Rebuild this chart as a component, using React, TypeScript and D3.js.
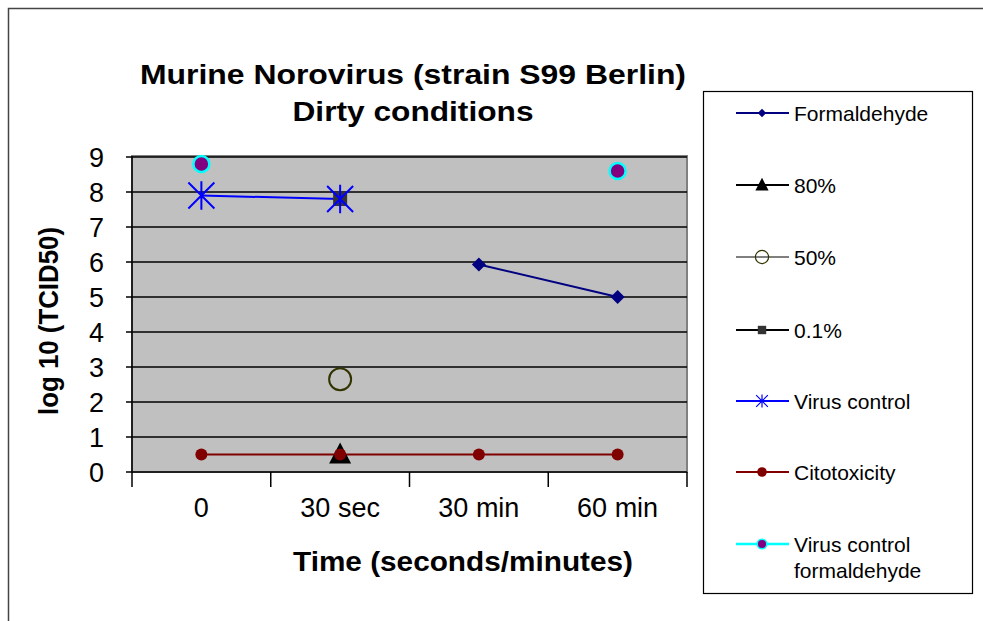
import React from 'react';
import * as d3 from 'd3';

// categories and series
const categories = ['0', '30 sec', '30 min', '60 min'];
const yTicks = [0, 1, 2, 3, 4, 5, 6, 7, 8, 9];

const formaldehyde = [null, null, 5.93, 5.0];
const pct80 = [null, 0.5, null, null];
const pct50 = [null, 2.65, null, null];
const pct01 = [null, 7.8, null, null];
const virusControl = [7.9, 7.8, null, null];
const citotoxicity = [0.5, 0.5, 0.5, 0.5];
const virusControlFormaldehyde = [8.8, null, null, 8.6];

const legendLabels = ['Formaldehyde', '80%', '50%', '0.1%', 'Virus control', 'Citotoxicity', 'Virus control|formaldehyde'];

const FONT = '"Liberation Sans", Arial, sans-serif';

type Kind = 'diamond' | 'triangle' | 'ocircle' | 'square' | 'asterisk' | 'dot' | 'vcf';

const Marker = ({ kind, x, y, s }: { kind: Kind; x: number; y: number; s: number }) => {
  // s = scale factor, 1 for plot, smaller for legend
  switch (kind) {
    case 'diamond': {
      const h = 7 * s;
      return <path d={`M${x},${y - h}L${x + h},${y}L${x},${y + h}L${x - h},${y}Z`} fill="#000080" />;
    }
    case 'triangle': {
      const w = 11 * s, h = 20 * s;
      return <path d={`M${x},${y - h * 0.6}L${x + w},${y + h * 0.45}L${x - w},${y + h * 0.45}Z`} fill="#000000" />;
    }
    case 'ocircle':
      return <circle cx={x} cy={y} r={11 * s} fill="none" stroke="#333300" strokeWidth={2 * Math.max(s, 0.6)} />;
    case 'square': {
      const h = 7 * s;
      return <rect x={x - h} y={y - h} width={2 * h} height={2 * h} fill="#333333" />;
    }
    case 'asterisk': {
      const a = 13 * s;
      return (
        <path
          d={`M${x - a},${y - a}L${x + a},${y + a}M${x - a},${y + a}L${x + a},${y - a}M${x},${y - a * 1.1}L${x},${y + a * 1.1}`}
          stroke="#0000ff"
          strokeWidth={2 * Math.max(s, 0.6)}
          fill="none"
        />
      );
    }
    case 'dot':
      return <circle cx={x} cy={y} r={6 * s} fill="#800000" />;
    case 'vcf':
      return <circle cx={x} cy={y} r={8 * s} fill="#800080" stroke="#00ffff" strokeWidth={2.5 * Math.max(s, 0.6)} />;
  }
  return null;
};

const series: { values: (number | null)[]; kind: Kind; color: string; lw: number; legendLw: number }[] = [
  { values: formaldehyde, kind: 'diamond', color: '#000080', lw: 2, legendLw: 2 },
  { values: pct80, kind: 'triangle', color: '#000000', lw: 2, legendLw: 2 },
  { values: pct50, kind: 'ocircle', color: '#000000', lw: 1, legendLw: 1 },
  { values: pct01, kind: 'square', color: '#000000', lw: 2, legendLw: 2 },
  { values: virusControl, kind: 'asterisk', color: '#0000ff', lw: 2, legendLw: 2 },
  { values: citotoxicity, kind: 'dot', color: '#800000', lw: 2, legendLw: 2 },
  { values: virusControlFormaldehyde, kind: 'vcf', color: '#00ffff', lw: 2.5, legendLw: 2.5 }
];

// lines only drawn where consecutive points exist (vcf has a gap)
const drawLine = [true, true, true, true, true, true, false];

export default function App(): JSX.Element {
  const width = 983;
  const height = 621;

  const plot = { l: 132, r: 687, t: 156, b: 472 };

  const x = d3.scaleBand<string>().domain(categories).range([plot.l, plot.r]);
  const y = d3.scaleLinear().domain([0, 9]).range([plot.b, plot.t + 1]);

  const line = d3
    .line<number | null>()
    .defined((d) => d !== null)
    .x((_, i) => (x(categories[i]) as number) + x.bandwidth() / 2)
    .y((d) => y(d as number));

  const boundaries = categories.map((c) => x(c) as number).concat([plot.r]);

  const legend = { x: 703, y: 91, w: 269, h: 502 };
  const legendRowY = [113, 185, 257, 330, 401, 472, 544];

  return (
    <svg width={width} height={height} style={{ position: 'absolute', left: 0, top: 0, background: '#fff' }}>
      {/* outer frame */}
      <rect x={8.5} y={8.5} width={1100} height={800} fill="none" stroke="#444" strokeWidth={1.5} />

      {/* title */}
      <g fontFamily={FONT} fontWeight="bold" fill="#000" textAnchor="middle">
        <text x={413} y={84} fontSize={28} textLength={546} lengthAdjust="spacingAndGlyphs">
          Murine Norovirus (strain S99 Berlin)
        </text>
        <text x={413} y={121} fontSize={28} textLength={241} lengthAdjust="spacingAndGlyphs">
          Dirty conditions
        </text>
      </g>

      {/* plot area */}
      <rect x={plot.l} y={plot.t} width={plot.r - plot.l} height={plot.b - plot.t} fill="#c0c0c0" stroke="#808080" strokeWidth={2} />
      {yTicks.slice(1).map((t) => (
        <line key={t} x1={plot.l} x2={plot.r} y1={y(t)} y2={y(t)} stroke="#000" strokeWidth={1.5} />
      ))}

      {/* axes */}
      <line x1={plot.l} x2={plot.l} y1={plot.t} y2={plot.b} stroke="#000" strokeWidth={1.5} />
      <line x1={plot.l} x2={plot.r} y1={plot.b} y2={plot.b} stroke="#000" strokeWidth={1.5} />
      {yTicks.map((t) => (
        <g key={t}>
          <line x1={plot.l - 6} x2={plot.l} y1={y(t)} y2={y(t)} stroke="#000" strokeWidth={1.5} />
          <text x={104} y={y(t) + 10} fontFamily={FONT} fontSize={27} textAnchor="end">
            {t}
          </text>
        </g>
      ))}
      {boundaries.map((b, i) => (
        <line key={i} x1={b} x2={b} y1={plot.b} y2={plot.b + 15} stroke="#000" strokeWidth={1.5} />
      ))}
      {categories.map((c) => (
        <text key={c} x={(x(c) as number) + x.bandwidth() / 2} y={517} fontFamily={FONT} fontSize={27} textAnchor="middle">
          {c}
        </text>
      ))}

      {/* axis titles */}
      <text x={463} y={571} fontFamily={FONT} fontWeight="bold" fontSize={28} textAnchor="middle" textLength={340} lengthAdjust="spacingAndGlyphs">
        Time (seconds/minutes)
      </text>
      <text
        transform="translate(58,321) rotate(-90)"
        fontFamily={FONT}
        fontWeight="bold"
        fontSize={27}
        textAnchor="middle"
        textLength={188}
        lengthAdjust="spacingAndGlyphs"
      >
        log 10 (TCID50)
      </text>

      {/* series lines */}
      {series.map((s, i) =>
        drawLine[i] ? (
          <path key={i} d={line(s.values) || ''} fill="none" stroke={s.color} strokeWidth={s.lw} />
        ) : null
      )}

      {/* markers */}
      {series.map((s, i) =>
        s.values.map((v, j) =>
          v === null ? null : (
            <Marker key={`${i}-${j}`} kind={s.kind} x={(x(categories[j]) as number) + x.bandwidth() / 2} y={y(v)} s={1} />
          )
        )
      )}

      {/* legend */}
      <rect x={legend.x + 0.5} y={legend.y + 0.5} width={legend.w} height={legend.h} fill="#fff" stroke="#000" strokeWidth={1.2} />
      {series.map((s, i) => {
        const ly = legendRowY[i];
        const lines = legendLabels[i].split('|');
        return (
          <g key={i}>
            <line x1={736} x2={789} y1={ly} y2={ly} stroke={s.color} strokeWidth={s.legendLw} />
            <Marker kind={s.kind} x={762} y={ly} s={i === 4 ? 0.45 : i === 5 ? 0.8 : 0.6} />
            {lines.map((t, k) => (
              <text key={k} x={794} y={ly + 8 + k * 26} fontFamily={FONT} fontSize={21} fill="#000">
                {t}
              </text>
            ))}
          </g>
        );
      })}
    </svg>
  );
}
